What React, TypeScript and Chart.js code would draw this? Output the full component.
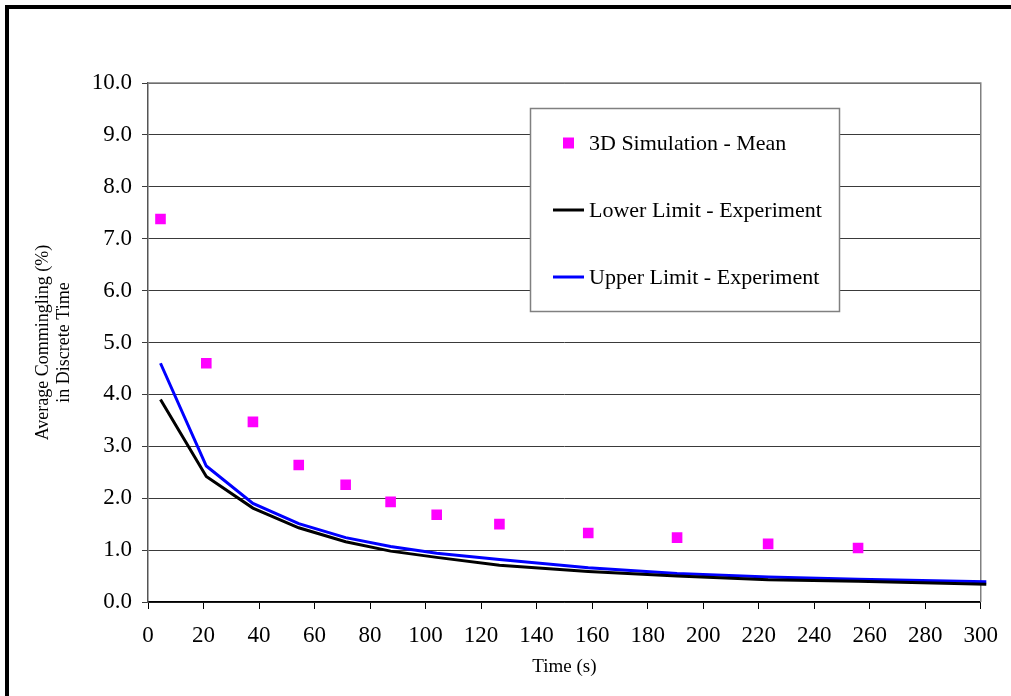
import React, { useEffect, useRef } from 'react';
import { Chart, registerables } from 'chart.js';

Chart.register(...registerables);

// ---- data ----
const meanTimes = [4.5, 21, 37.8, 54.3, 71.2, 87.4, 104, 126.6, 158.6, 190.6, 223.4, 255.8];
const meanValues = [7.38, 4.6, 3.47, 2.64, 2.26, 1.93, 1.68, 1.5, 1.33, 1.24, 1.12, 1.04];

const limitTimes = [4.5, 21, 37.8, 54.3, 71.2, 87.4, 104, 126.6, 158.6, 190.6, 223.4, 255.8, 302];
const lowerValues = [3.9, 2.42, 1.81, 1.43, 1.16, 0.98, 0.86, 0.71, 0.59, 0.5, 0.43, 0.4, 0.34];
const upperValues = [4.6, 2.62, 1.9, 1.51, 1.24, 1.07, 0.94, 0.82, 0.66, 0.55, 0.48, 0.44, 0.39];

const seriesLabels = ['3D Simulation - Mean', 'Lower Limit - Experiment', 'Upper Limit - Experiment'];
const seriesColors = ['#FF00FF', '#000000', '#0000FF'];

const xTitle = 'Time (s)';
const yTitleLines = ['Average Commingling (%)', 'in Discrete Time'];

const SERIF = "'Liberation Serif', 'Times New Roman', serif";

const toPoints = (xs: number[], ys: number[]) => xs.map((x, i) => ({ x, y: ys[i] }));

const boxLegend = {
  id: 'boxLegend',
  afterDraw(chart: any) {
    const ctx = chart.ctx as CanvasRenderingContext2D;
    const bx = 530, by = 108, bw = 309, bh = 203;
    ctx.save();
    ctx.fillStyle = '#ffffff';
    ctx.fillRect(bx, by, bw, bh);
    ctx.strokeStyle = '#808080';
    ctx.lineWidth = 1.5;
    ctx.strokeRect(bx + 0.5, by + 0.5, bw, bh);
    const rowsY = [143, 210, 277];
    ctx.font = `22px ${SERIF}`;
    ctx.textBaseline = 'middle';
    ctx.textAlign = 'left';
    chart.data.datasets.forEach((ds: any, i: number) => {
      const y = rowsY[i];
      if (ds.showLine) {
        ctx.strokeStyle = ds.borderColor;
        ctx.lineWidth = 3;
        ctx.beginPath();
        ctx.moveTo(553, y);
        ctx.lineTo(584, y);
        ctx.stroke();
      } else {
        ctx.fillStyle = ds.backgroundColor;
        ctx.fillRect(563, y - 5.5, 11, 11);
      }
      ctx.fillStyle = '#000';
      ctx.fillText(ds.label, 589, y + 1);
    });
    ctx.restore();
  },
};

const plotFrame = {
  id: 'plotFrame',
  beforeDatasetsDraw(chart: any) {
    const { ctx, chartArea } = chart;
    ctx.save();
    ctx.strokeStyle = '#808080';
    ctx.lineWidth = 1.5;
    ctx.beginPath();
    ctx.moveTo(chartArea.left, chartArea.top);
    ctx.lineTo(chartArea.right, chartArea.top);
    ctx.lineTo(chartArea.right, chartArea.bottom);
    ctx.stroke();
    ctx.restore();
  },
};

export default function App() {
  const ref = useRef<HTMLCanvasElement | null>(null);

  useEffect(() => {
    if (!ref.current) return;
    const chart = new Chart(ref.current, {
      type: 'scatter',
      data: {
        datasets: [
          {
            label: seriesLabels[0],
            data: toPoints(meanTimes, meanValues),
            showLine: false,
            pointStyle: 'rect',
            pointRadius: 7.5,
            pointBorderWidth: 0,
            backgroundColor: seriesColors[0],
            borderColor: seriesColors[0],
          },
          {
            label: seriesLabels[1],
            data: toPoints(limitTimes, lowerValues),
            showLine: true,
            pointRadius: 0,
            borderWidth: 3,
            borderColor: seriesColors[1],
            backgroundColor: seriesColors[1],
            clip: 10,
          },
          {
            label: seriesLabels[2],
            data: toPoints(limitTimes, upperValues),
            showLine: true,
            pointRadius: 0,
            borderWidth: 3,
            borderColor: seriesColors[2],
            backgroundColor: seriesColors[2],
            clip: 10,
          },
        ],
      },
      options: {
        responsive: false,
        animation: false,
        layout: { padding: { top: 83, right: 29, left: 0, bottom: 0 } },
        plugins: { legend: { display: false }, tooltip: { enabled: false } },
        scales: {
          x: {
            type: 'linear',
            min: 0,
            max: 300,
            afterFit: (s: any) => { s.height = 94; },
            ticks: {
              stepSize: 20,
              color: '#000',
              font: { family: SERIF, size: 23 },
              padding: 13,
              maxRotation: 0,
            },
            grid: { drawOnChartArea: false, drawTicks: true, tickLength: 7, color: '#000', lineWidth: 1 },
            border: { color: '#000', width: 1.5 },
            title: {
              display: true,
              text: xTitle,
              color: '#000',
              font: { family: SERIF, size: 19 },
              padding: { top: 0, bottom: 18 },
            },
          },
          y: {
            type: 'linear',
            min: 0,
            max: 10,
            afterFit: (s: any) => { s.width = 148; },
            ticks: {
              stepSize: 1,
              color: '#000',
              font: { family: SERIF, size: 23 },
              padding: 10,
              callback: (v: any) => Number(v).toFixed(1),
            },
            grid: { drawOnChartArea: true, drawTicks: true, tickLength: 6, color: '#3a3a3a', lineWidth: 1 },
            border: { color: '#555', width: 1.5 },
            title: {
              display: true,
              text: yTitleLines,
              color: '#000',
              font: { family: SERIF, size: 18, lineHeight: 1.15 },
              padding: { top: 33, bottom: 0 },
            },
          },
        },
      },
      plugins: [plotFrame, boxLegend],
    });
    return () => chart.destroy();
  }, []);

  return (
    <div style={{ position: 'fixed', left: 0, top: 0, width: 1011, height: 696, overflow: 'hidden', background: '#fff' }}>
      <div
        style={{
          position: 'absolute',
          left: 5,
          top: 5,
          width: 1100,
          height: 800,
          borderLeft: '4px solid #000',
          borderTop: '4px solid #000',
        }}
      />
      <canvas ref={ref} width={1011} height={696} style={{ position: 'absolute', left: 0, top: 0 }} />
    </div>
  );
}
